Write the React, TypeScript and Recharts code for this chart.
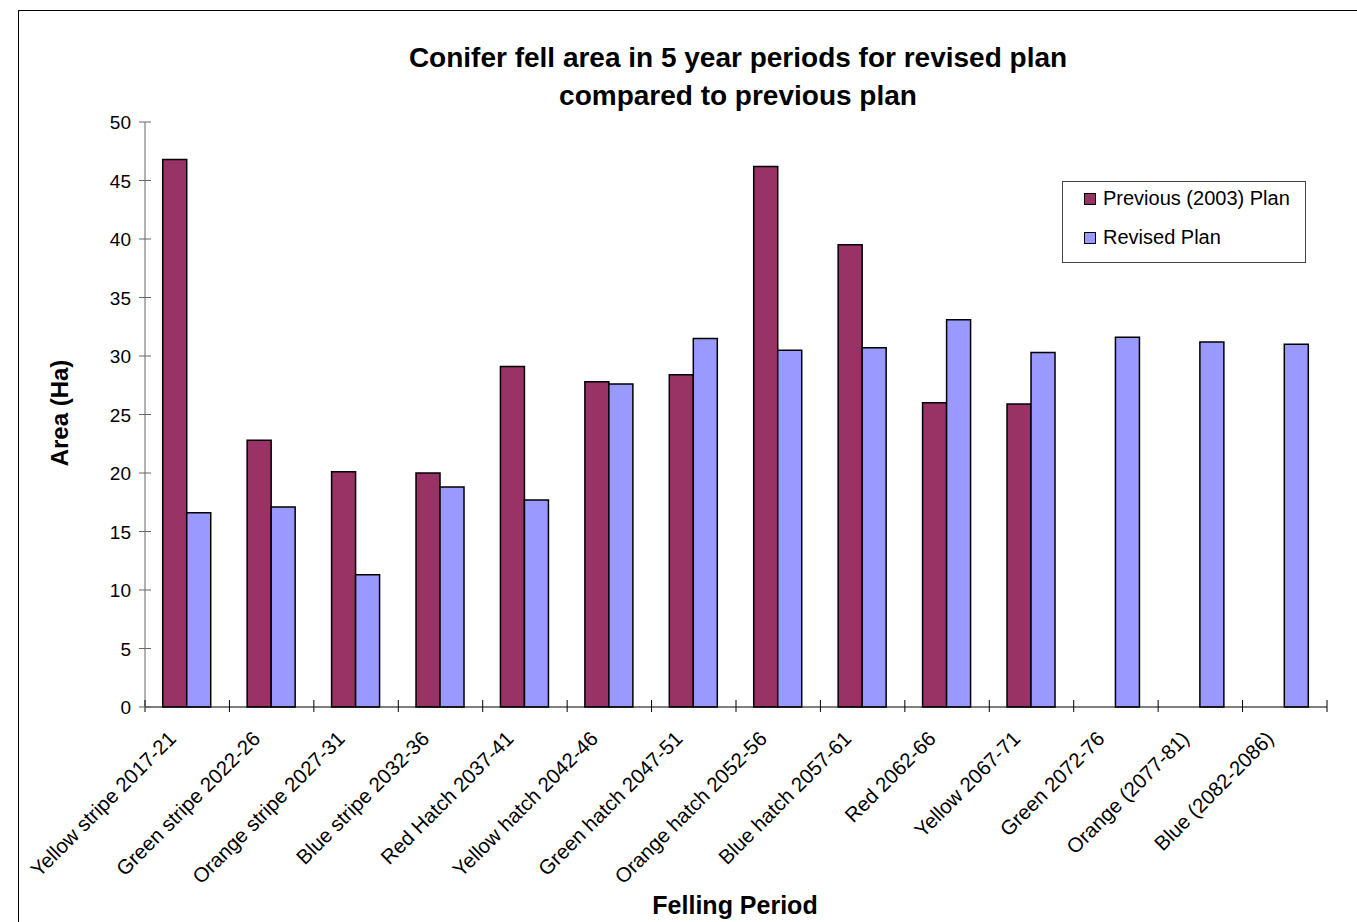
import { Bar, BarChart, XAxis, YAxis } from 'recharts'

const periods = [
  'Yellow stripe 2017-21',
  'Green stripe 2022-26',
  'Orange stripe 2027-31',
  'Blue stripe 2032-36',
  'Red Hatch 2037-41',
  'Yellow hatch 2042-46',
  'Green hatch 2047-51',
  'Orange hatch 2052-56',
  'Blue hatch 2057-61',
  'Red 2062-66',
  'Yellow 2067-71',
  'Green 2072-76',
  'Orange (2077-81)',
  'Blue (2082-2086)',
]
const previousPlan = [46.8, 22.8, 20.1, 20.0, 29.1, 27.8, 28.4, 46.2, 39.5, 26.0, 25.9, null, null, null]
const revisedPlan = [16.6, 17.1, 11.3, 18.8, 17.7, 27.6, 31.5, 30.5, 30.7, 33.1, 30.3, 31.6, 31.2, 31.0]
const yTicks = [0, 5, 10, 15, 20, 25, 30, 35, 40, 45, 50]

const data = periods.map((p, i) => ({ period: p, previous: previousPlan[i], revised: revisedPlan[i] }))

const FONT = '"Liberation Sans", Arial, sans-serif'
const PREV = '#993366'
const REV = '#9999FF'

function YTick({ x, y, payload }: any) {
  return (
    <g>
      <line x1={x - 6} x2={x + 6} y1={y} y2={y} stroke="#666" strokeWidth={1} />
      <text x={x - 14} y={y} dy={7} textAnchor="end" fontSize={19} fill="#000" fontFamily={FONT}>
        {payload.value}
      </text>
    </g>
  )
}

// category label plus tick marks on the band edges (Excel style)
function PeriodTick({ x, y, payload, index, width, visibleTicksCount }: any) {
  const half = payload.offset || width / visibleTicksCount / 2
  const tx = x - 10
  const ty = y + 33
  const edges = index === visibleTicksCount - 1 ? [x - half, x + half] : [x - half]
  return (
    <g>
      {index > 0 || true
        ? edges.map((ex, k) => <line key={k} x1={ex} x2={ex} y1={y - 7} y2={y + 5} stroke="#000" strokeWidth={1} />)
        : null}
      <text
        x={tx}
        y={ty}
        textAnchor="end"
        fontSize={20.5}
        fill="#000"
        fontFamily={FONT}
        transform={`rotate(-45, ${tx}, ${ty})`}
      >
        {payload.value}
      </text>
    </g>
  )
}

export default function App() {
  return (
    <div style={{ position: 'absolute', left: 0, top: 0, width: 1357, height: 922, background: '#fff', overflow: 'hidden', fontFamily: FONT }}>
      <div style={{ position: 'absolute', left: 18, top: 10, width: 1400, height: 1000, border: '1px solid #000' }} />
      <div style={{ position: 'absolute', left: 0, top: 0 }}>
        <BarChart
          width={1357}
          height={922}
          data={data}
          margin={{ top: 122, left: 144, right: 30, bottom: 214 }}
          barCategoryGap="21%"
          barGap={0}
        >
          <XAxis
            dataKey="period"
            type="category"
            height={1}
            interval={0}
            tickLine={false}
            tickSize={0}
            tickMargin={0}
            axisLine={{ stroke: '#000', strokeWidth: 1 }}
            tick={<PeriodTick />}
          />
          <YAxis
            domain={[0, 50]}
            ticks={yTicks}
            width={1}
            tickSize={0}
            tickMargin={0}
            tickLine={false}
            interval={0}
            axisLine={{ stroke: '#666', strokeWidth: 1 }}
            tick={<YTick />}
          />
          <Bar dataKey="previous" fill={PREV} stroke="#000" strokeWidth={1.5} isAnimationActive={false} />
          <Bar dataKey="revised" fill={REV} stroke="#000" strokeWidth={1.5} isAnimationActive={false} />
        </BarChart>
      </div>
      <div style={{ position: 'absolute', left: 0, width: 1476, top: 39, textAlign: 'center', fontSize: 28, fontWeight: 'bold', lineHeight: '38px' }}>
        Conifer fell area in 5 year periods for revised plan
        <br />
        compared to previous plan
      </div>
      <div
        style={{
          position: 'absolute',
          left: 60,
          top: 413,
          transform: 'translate(-50%, -50%) rotate(-90deg)',
          fontSize: 24,
          fontWeight: 'bold',
          whiteSpace: 'nowrap',
        }}
      >
        Area (Ha)
      </div>
      <div style={{ position: 'absolute', left: 735, top: 905, transform: 'translate(-50%, -50%)', fontSize: 25, fontWeight: 'bold', whiteSpace: 'nowrap' }}>
        Felling Period
      </div>
      <div style={{ position: 'absolute', left: 1062, top: 181, width: 242, height: 80, border: '1px solid #444', background: '#fff' }}>
        {[
          { label: 'Previous (2003) Plan', color: PREV },
          { label: 'Revised Plan', color: REV },
        ].map((item, i) => (
          <div key={i} style={{ position: 'absolute', left: 21, top: 5 + i * 39, display: 'flex', alignItems: 'center', fontSize: 20, whiteSpace: 'nowrap' }}>
            <span style={{ display: 'inline-block', width: 10, height: 10, background: item.color, border: '1.5px solid #000', marginRight: 7 }} />
            {item.label}
          </div>
        ))}
      </div>
    </div>
  )
}
